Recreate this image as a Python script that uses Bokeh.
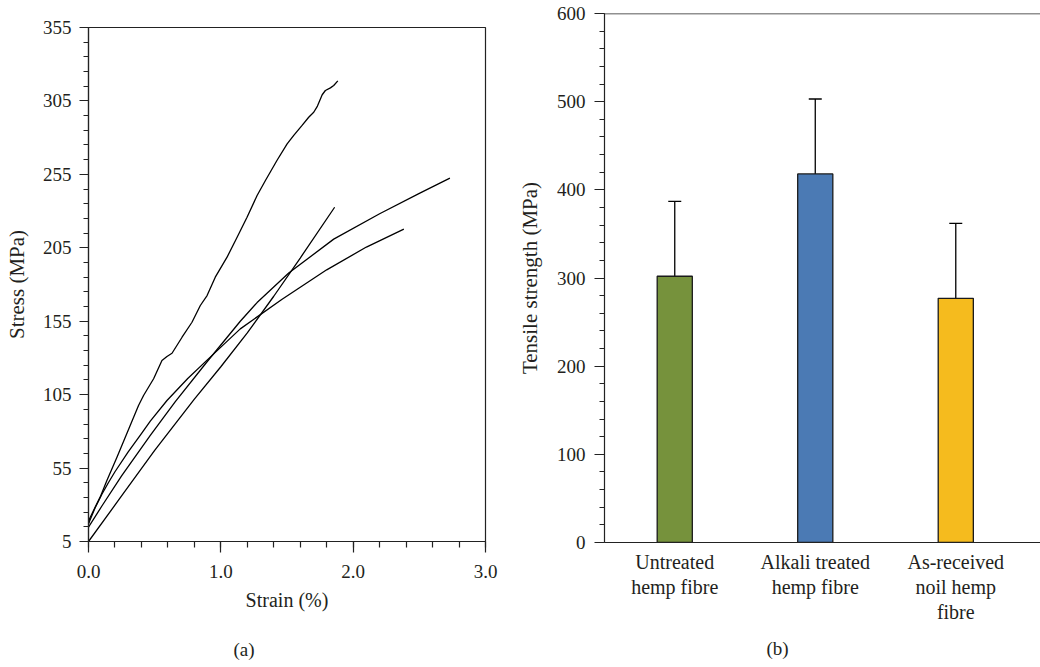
from bokeh.plotting import figure
from bokeh.layouts import row, column
from bokeh.models import (Range1d, FixedTicker, Whisker, ColumnDataSource, Span,
                          Title, TeeHead, PrintfTickFormatter)
from bokeh.embed import file_html
from bokeh.resources import INLINE

# ---------------- data: panel (a) stress-strain curves ----------------
curve1_strain = [0, 0.008, 0.038, 0.088, 0.139, 0.215, 0.315, 0.378, 0.416, 0.492, 0.555, 0.593,
                 0.631, 0.707, 0.782, 0.845, 0.896, 0.958, 1.047, 1.123, 1.198, 1.274, 1.337,
                 1.425, 1.501, 1.551, 1.614, 1.664, 1.702, 1.730, 1.766, 1.790, 1.828, 1.853, 1.884]
curve1_stress = [17.3, 20.5, 26.1, 35.2, 46.5, 62.4, 84.0, 97.6, 104.4, 115.8, 128.2, 131.0,
                 133.2, 144.1, 154.3, 165.7, 172.5, 185.0, 198.6, 212.2, 225.8, 240.6, 250.8,
                 264.6, 275.8, 281.5, 288.3, 293.9, 297.3, 301.5, 309.2, 312.1, 313.9, 315.5, 318.7]

curve2_strain = [0, 0.25, 0.5, 0.8, 1.0, 1.2, 1.4, 1.6, 1.86]
curve2_stress = [5, 36, 67, 102, 124, 147, 172, 198, 232.6]

curve3_strain = [0, 0.1, 0.25, 0.467, 0.656, 0.896, 1.147, 1.274, 1.513, 1.853, 2.2, 2.5, 2.731]
curve3_stress = [14.7, 29.0, 49.7, 77.3, 100.3, 127.4, 155.0, 167.7, 187.8, 210.9, 228.2, 242.0, 252.4]

curve4_strain = [0, 0.05, 0.1, 0.15, 0.2, 0.3, 0.4, 0.467, 0.593, 0.75, 0.896, 1.147, 1.463,
                 1.8, 2.1, 2.383]
curve4_stress = [17, 28, 37, 45, 52.5, 66, 78.5, 87, 101, 116, 128.5, 149.8, 170,
                 190, 205.5, 217.7]

stress_ticks = [5, 55, 105, 155, 205, 255, 305, 355]
strain_ticks = [0, 1, 2, 3]

# ---------------- data: panel (b) tensile strength ----------------
categories = ["Untreated\nhemp fibre", "Alkali treated\nhemp fibre", "As-received\nnoil hemp\nfibre"]
tensile = [302, 418, 277]
tensile_err = [85, 85, 85]
bar_colors = ["#76923C", "#4B7AB4", "#F5BB1E"]
strength_ticks = [0, 100, 200, 300, 400, 500, 600]

FONT = "Liberation Serif"
TXT = "#231F20"
TICK_SIZE = "19px"
LAB_SIZE = "20px"


def style_axis(ax):
    ax.major_label_text_font = FONT
    ax.major_label_text_font_size = TICK_SIZE
    ax.major_label_text_color = TXT
    ax.axis_label_text_font = FONT
    ax.axis_label_text_font_size = LAB_SIZE
    ax.axis_label_text_font_style = "normal"
    ax.axis_label_text_color = TXT
    ax.axis_line_color = "#222222"
    ax.axis_line_width = 1.2
    ax.major_tick_line_color = "#222222"
    ax.minor_tick_line_color = "#222222"
    ax.major_tick_line_width = 1.2
    ax.minor_tick_line_width = 1.2
    ax.major_tick_in = 0
    ax.minor_tick_in = 0


def panel_title(text, offset, standoff):
    return Title(text=text, align="left", offset=offset, text_font=FONT,
                 text_font_size="19px", text_font_style="normal", text_color=TXT,
                 standoff=standoff)


# ---------------- panel (a) ----------------
p1 = figure(frame_width=397, frame_height=514,
            min_border_left=88, min_border_right=15, min_border_top=27, min_border_bottom=123,
            x_range=Range1d(0, 3), y_range=Range1d(5, 355),
            output_backend="svg", toolbar_location=None)
p1.grid.visible = False
p1.outline_line_color = "#222222"
p1.outline_line_width = 1.2
p1.background_fill_color = "white"
p1.border_fill_color = "white"

for xs, ys in [(curve1_strain, curve1_stress), (curve2_strain, curve2_stress),
               (curve3_strain, curve3_stress), (curve4_strain, curve4_stress)]:
    p1.line(xs, ys, line_color="black", line_width=1.3)

xa = p1.xaxis[0]
style_axis(xa)
xa.ticker = FixedTicker(ticks=strain_ticks,
                        minor_ticks=[i * 0.2 for i in range(16)])
xa.formatter = PrintfTickFormatter(format="%.1f")
xa.major_tick_out = 11
xa.minor_tick_out = 6
xa.major_label_standoff = 12
xa.axis_label = "Strain (%)"
xa.axis_label_standoff = 8

ya = p1.yaxis[0]
style_axis(ya)
ya.ticker = FixedTicker(ticks=stress_ticks,
                        minor_ticks=[5 + 10 * i for i in range(36)])
ya.major_tick_out = 9
ya.minor_tick_out = 5
ya.major_label_standoff = 8
ya.axis_label = "Stress (MPa)"
ya.axis_label_text_font_size = "21px"
ya.axis_label_standoff = 11

p1.add_layout(panel_title("(a)", 145, 47), "below")

# ---------------- panel (b) ----------------
xs_bar = [i + 1 for i in range(len(categories))]
src = ColumnDataSource(dict(x=xs_bar, top=tensile, color=bar_colors,
                            upper=[t + e for t, e in zip(tensile, tensile_err)],
                            lower=[t - e for t, e in zip(tensile, tensile_err)]))

p2 = figure(frame_width=436, frame_height=529,
            min_border_left=104, min_border_right=0, min_border_top=13, min_border_bottom=122,
            x_range=Range1d(0.5, 3.603), y_range=Range1d(0, 600),
            output_backend="svg", toolbar_location=None)
p2.grid.visible = False
p2.outline_line_color = None
p2.background_fill_color = "white"
p2.border_fill_color = "white"

p2.vbar(x="x", top="top", width=0.25, bottom=0, fill_color="color", source=src,
        line_color="#1a1a1a", line_width=1.3)
p2.add_layout(Whisker(base="x", upper="upper", lower="lower", source=src,
                      line_color="black", line_width=1.3,
                      upper_head=TeeHead(size=13, line_color="black", line_width=1.3),
                      lower_head=TeeHead(size=13, line_color="black", line_width=1.3)))

xb = p2.xaxis[0]
style_axis(xb)
xb.ticker = FixedTicker(ticks=xs_bar, minor_ticks=[])
xb.major_label_overrides = {x: c for x, c in zip(xs_bar, categories)}
xb.major_label_text_font_size = LAB_SIZE
xb.major_label_text_line_height = 1.15
xb.major_tick_out = 0
xb.minor_tick_out = 0
xb.major_label_standoff = 8

yb = p2.yaxis[0]
style_axis(yb)
yb.ticker = FixedTicker(ticks=strength_ticks, minor_ticks=[20 * i for i in range(31)])
yb.major_tick_out = 10
yb.minor_tick_out = 5
yb.major_label_standoff = 9
yb.axis_label = "Tensile strength (MPa)"
yb.axis_label_text_font_size = "21px"
yb.axis_label_standoff = 12

# top border line of panel (b) (the frame continues past the right edge)
p2.add_layout(Span(location=strength_ticks[-1], dimension="width",
                   line_color="#222222", line_width=1.5))

p2.add_layout(panel_title("(b)", 162, 18), "below")

layout = row(column(p1), column(p2))
open("out.html", "w").write(file_html(layout, INLINE))
